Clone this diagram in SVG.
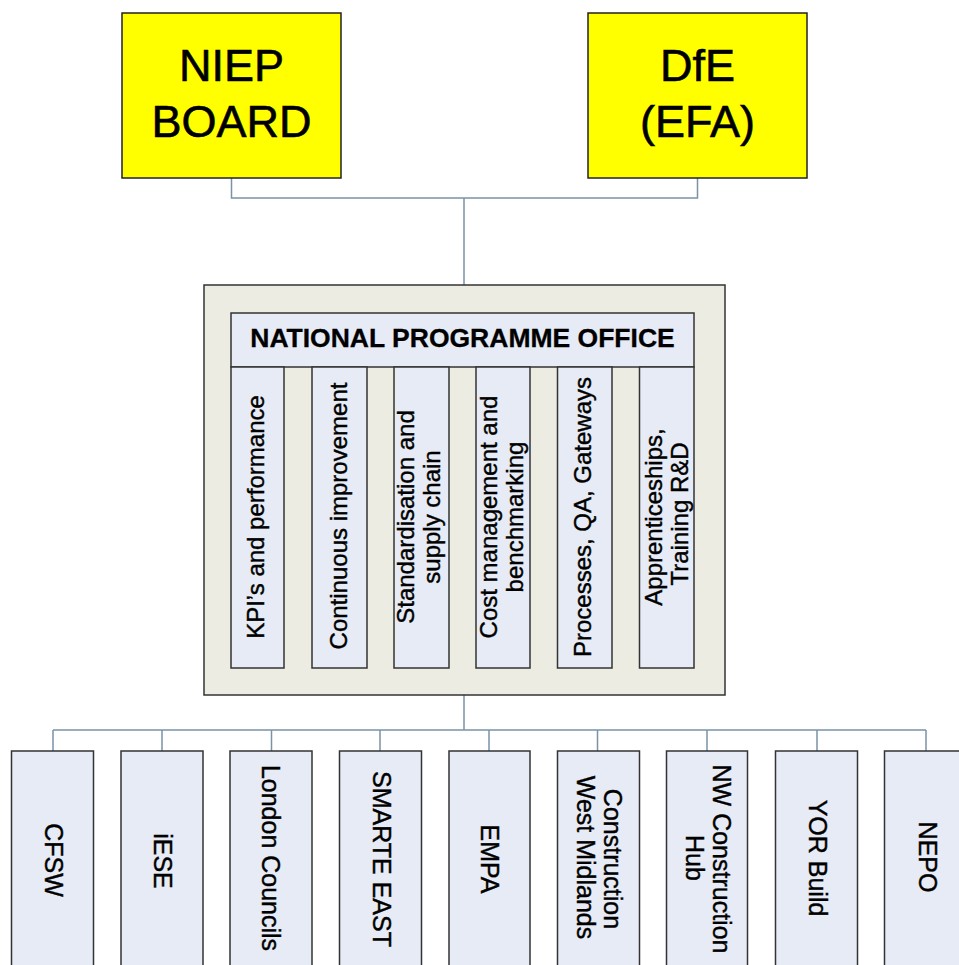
<svg xmlns="http://www.w3.org/2000/svg" width="959" height="965" viewBox="0 0 959 965">
<style>
  text { font-family: "Liberation Sans", Arial, sans-serif; fill: #000; text-anchor: middle; stroke: #000; stroke-width: 0.4; }
  .top { fill: #FFFF00; stroke: #222; stroke-width: 1.5; }
  .big { font-size: 45px; stroke-width: 0.6; }
  .outer { fill: #ECECE2; stroke: #333; stroke-width: 1.5; }
  .inner { fill: #E6EBF5; stroke: #333; stroke-width: 1.5; }
  .hdr { font-size: 26.5px; font-weight: bold; stroke-width: 0.3; }
  .col { font-size: 24px; }
  .bot { font-size: 25px; }
  .conn { fill: none; stroke: #7A93A8; stroke-width: 1.5; }
</style>
<rect width="959" height="965" fill="#FFFFFF"/>
<g id="connectors">
  <path class="conn" d="M231.5 178 V198 H697.5 V178 M464 198 V285"/>
  <path class="conn" d="M464 695 V730 M53 730 H926 M53 730 V751 M162 730 V751 M271.5 730 V751 M380 730 V751 M489 730 V751 M597.5 730 V751 M707 730 V751 M817 730 V751 M926 730 V751"/>
</g>
<g id="niep-board">
  <rect class="top" x="122" y="13" width="219" height="165"/>
  <text class="big" x="231.5" y="81">NIEP</text>
  <text class="big" x="231.5" y="137">BOARD</text>
</g>
<g id="dfe-efa">
  <rect class="top" x="588" y="13" width="219" height="165"/>
  <text class="big" x="697.5" y="81">DfE</text>
  <text class="big" x="697.5" y="137">(EFA)</text>
</g>
<g id="npo">
  <rect class="outer" x="204" y="285" width="521" height="410"/>
  <rect class="inner" x="231" y="313" width="463" height="54"/>
  <text class="hdr" x="462.5" y="347">NATIONAL PROGRAMME OFFICE</text>
</g>
<g id="col-kpi">
  <rect class="inner" x="231" y="367" width="53" height="301"/>
  <text class="col" transform="translate(264,517) rotate(-90)">KPI’s and performance</text>
</g>
<g id="col-ci">
  <rect class="inner" x="312" y="367" width="55" height="301"/>
  <text class="col" transform="translate(347,516) rotate(-90)">Continuous improvement</text>
</g>
<g id="col-std">
  <rect class="inner" x="394" y="367" width="55" height="301"/>
  <text class="col" transform="translate(413.5,517) rotate(-90)">Standardisation and</text>
  <text class="col" transform="translate(439.5,517) rotate(-90)">supply chain</text>
</g>
<g id="col-cost">
  <rect class="inner" x="476" y="367" width="54" height="301"/>
  <text class="col" transform="translate(497,517) rotate(-90)">Cost management and</text>
  <text class="col" transform="translate(523,517) rotate(-90)">benchmarking</text>
</g>
<g id="col-proc">
  <rect class="inner" x="557.5" y="367" width="54.5" height="301"/>
  <text class="col" transform="translate(591,517) rotate(-90)">Processes, QA,  Gateways</text>
</g>
<g id="col-app">
  <rect class="inner" x="639.5" y="367" width="54.5" height="301"/>
  <text class="col" transform="translate(661.5,517) rotate(-90)">Apprenticeships,</text>
  <text class="col" transform="translate(688,514) rotate(-90)">Training R&amp;D</text>
</g>
<g id="cfsw">
  <rect class="inner" x="11.5" y="751" width="82" height="230"/>
  <text class="bot" transform="translate(45,860) rotate(90)">CFSW</text>
</g>
<g id="iese">
  <rect class="inner" x="121" y="751" width="82" height="230"/>
  <text class="bot" transform="translate(153.5,861) rotate(90)">iESE</text>
</g>
<g id="london-councils">
  <rect class="inner" x="230" y="751" width="82" height="230"/>
  <text class="bot" transform="translate(262,858) rotate(90)">London Councils</text>
</g>
<g id="smarte-east">
  <rect class="inner" x="339.5" y="751" width="82" height="230"/>
  <text class="bot" transform="translate(373,859) rotate(90)">SMARTE EAST</text>
</g>
<g id="empa">
  <rect class="inner" x="449" y="751" width="81" height="230"/>
  <text class="bot" transform="translate(481,859) rotate(90)">EMPA</text>
</g>
<g id="cwm">
  <rect class="inner" x="557.5" y="751" width="82" height="230"/>
  <text class="bot" transform="translate(603.5,859) rotate(90)">Construction</text>
  <text class="bot" transform="translate(576.5,857.5) rotate(90)">West Midlands</text>
</g>
<g id="nw-hub">
  <rect class="inner" x="666.5" y="751" width="81" height="230"/>
  <text class="bot" transform="translate(712.5,859) rotate(90)">NW Construction</text>
  <text class="bot" transform="translate(686,858) rotate(90)">Hub</text>
</g>
<g id="yor-build">
  <rect class="inner" x="775.5" y="751" width="82" height="230"/>
  <text class="bot" transform="translate(808.5,858) rotate(90)">YOR Build</text>
</g>
<g id="nepo">
  <rect class="inner" x="884.5" y="751" width="90" height="230"/>
  <text class="bot" transform="translate(918.5,857) rotate(90)">NEPO</text>
</g>
</svg>
